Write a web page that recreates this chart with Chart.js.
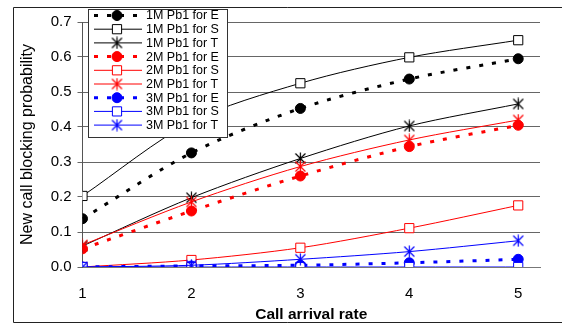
<!DOCTYPE html>
<html>
<head>
    <title>New call blocking probability</title>
    <script src="https://cdn.jsdelivr.net/npm/chart.js"></script>
    <style>
        body {
            margin: 0;
            background: #fff;
        }
    </style>
</head>
<body>
    <canvas id="lineChart" width="562" height="324"></canvas>
    <script>
        // call arrival rates on the x axis
        const arrivalRates = [1, 2, 3, 4, 5];
        const yTicks = [0.0, 0.1, 0.2, 0.3, 0.4, 0.5, 0.6, 0.7];

        const seriesLabels = [
            '1M Pb1 for E', '1M Pb1 for S', '1M Pb1 for T',
            '2M Pb1 for E', '2M Pb1 for S', '2M Pb1 for T',
            '3M Pb1 for E', '3M Pb1 for S', '3M Pb1 for T'
        ];

        const m1E = [0.138, 0.326, 0.453, 0.537, 0.595];
        const m1S = [0.203, 0.415, 0.525, 0.599, 0.648];
        const m1T = [0.060, 0.198, 0.310, 0.403, 0.466];
        const m2E = [0.052, 0.160, 0.260, 0.344, 0.405];
        const m2S = [0.000, 0.020, 0.055, 0.111, 0.176];
        const m2T = [0.063, 0.186, 0.287, 0.363, 0.420];
        const m3E = [0.000, 0.003, 0.005, 0.012, 0.022];
        const m3S = [0.000, 0.000, 0.000, 0.000, 0.000];
        const m3T = [0.000, 0.005, 0.022, 0.044, 0.075];

        const FONT = "'Liberation Sans', Arial, sans-serif";

        // asterisk marker: an X with a vertical stroke
        function starMarker(color) {
            const c = document.createElement('canvas');
            c.width = 13;
            c.height = 13;
            const g = c.getContext('2d');
            g.strokeStyle = color;
            g.lineWidth = 1.2;
            g.beginPath();
            g.moveTo(1.5, 1.5); g.lineTo(11.5, 11.5);
            g.moveTo(11.5, 1.5); g.lineTo(1.5, 11.5);
            g.moveTo(6.5, 0.5); g.lineTo(6.5, 12.5);
            g.stroke();
            return c;
        }

        function pts(values) {
            return values.map((v, i) => ({ x: arrivalRates[i], y: v }));
        }

        function eSeries(label, values, color) {
            return {
                label: label, data: pts(values),
                borderColor: color, borderWidth: 3, borderDash: [4, 9],
                pointStyle: 'circle', pointRadius: 5,
                pointBackgroundColor: color, pointBorderColor: color, pointBorderWidth: 1
            };
        }
        function sSeries(label, values, color) {
            return {
                label: label, data: pts(values),
                borderColor: color, borderWidth: 1,
                pointStyle: 'rect', pointRadius: 6.5,
                pointBackgroundColor: '#fff', pointBorderColor: color, pointBorderWidth: 1
            };
        }
        function tSeries(label, values, color) {
            return {
                label: label, data: pts(values),
                borderColor: color, borderWidth: 1,
                pointStyle: starMarker(color), pointRadius: 6
            };
        }

        const datasets = [
            eSeries(seriesLabels[0], m1E, '#000'),
            sSeries(seriesLabels[1], m1S, '#000'),
            tSeries(seriesLabels[2], m1T, '#000'),
            eSeries(seriesLabels[3], m2E, '#ff0000'),
            sSeries(seriesLabels[4], m2S, '#ff0000'),
            tSeries(seriesLabels[5], m2T, '#ff0000'),
            eSeries(seriesLabels[6], m3E, '#0000ff'),
            sSeries(seriesLabels[7], m3S, '#0000ff'),
            tSeries(seriesLabels[8], m3T, '#0000ff')
        ];
        // later series are painted over earlier ones
        datasets.forEach((d, i) => { d.order = datasets.length - i; d.tension = 0.3; });

        const framePlugin = {
            id: 'frame',
            beforeDraw(chart) {
                const ctx = chart.ctx;
                ctx.save();
                ctx.fillStyle = '#fff';
                ctx.fillRect(0, 0, chart.width, chart.height);
                ctx.strokeStyle = '#222';
                ctx.lineWidth = 1;
                ctx.beginPath();
                ctx.moveTo(562, 7.5);
                ctx.lineTo(13.5, 7.5);
                ctx.lineTo(13.5, 322.5);
                ctx.lineTo(562, 322.5);
                ctx.stroke();
                ctx.restore();
            }
        };

        // boxed legend with a line sample and marker for each series
        const legendPlugin = {
            id: 'boxLegend',
            afterDraw(chart) {
                const ctx = chart.ctx;
                const bx = 88.5, by = 9.5, bw = 139, bh = 128;
                ctx.save();
                ctx.fillStyle = '#fff';
                ctx.fillRect(bx, by, bw, bh);
                ctx.strokeStyle = '#333';
                ctx.lineWidth = 1;
                ctx.strokeRect(bx, by, bw, bh);
                ctx.font = '12.5px ' + FONT;
                ctx.textBaseline = 'middle';
                chart.data.datasets.forEach((d, i) => {
                    const y = 15.5 + i * 13.7;
                    ctx.save();
                    ctx.strokeStyle = d.borderColor;
                    ctx.lineWidth = d.borderWidth;
                    ctx.setLineDash(d.borderDash || []);
                    ctx.beginPath();
                    ctx.moveTo(94, y);
                    ctx.lineTo(142, y);
                    ctx.stroke();
                    ctx.restore();
                    ctx.save();
                    ctx.fillStyle = d.pointBackgroundColor || d.borderColor;
                    ctx.strokeStyle = d.pointBorderColor || d.borderColor;
                    ctx.lineWidth = d.pointBorderWidth || 1;
                    if (Chart.helpers && Chart.helpers.drawPoint) {
                        Chart.helpers.drawPoint(ctx, { pointStyle: d.pointStyle, radius: d.pointRadius, borderWidth: ctx.lineWidth }, 117, y);
                    }
                    ctx.restore();
                    ctx.fillStyle = '#000';
                    ctx.fillText(d.label, 146, y + 0.5);
                });
                ctx.restore();
            }
        };

        const ctx = document.getElementById('lineChart').getContext('2d');
        new Chart(ctx, {
            type: 'line',
            data: { datasets: datasets },
            plugins: [framePlugin, legendPlugin],
            options: {
                responsive: false,
                animation: false,
                layout: { padding: { top: 22, right: 22, left: 0, bottom: 0 } },
                plugins: {
                    legend: { display: false },
                    tooltip: { enabled: false }
                },
                scales: {
                    x: {
                        type: 'linear',
                        min: 1,
                        max: 5.2,
                        afterBuildTicks: (scale) => {
                            scale.ticks = arrivalRates.map(v => ({ value: v }));
                        },
                        afterFit: (scale) => { scale.height = 57; },
                        grid: { display: false },
                        border: { display: true, color: '#777', width: 1 },
                        ticks: {
                            color: '#000',
                            padding: 10,
                            maxRotation: 0,
                            font: { family: FONT, size: 15 }
                        },
                        title: {
                            display: true,
                            text: 'Call arrival rate',
                            color: '#000',
                            padding: { top: 4, bottom: 0 },
                            font: { family: FONT, size: 15.5, weight: 'bold' }
                        }
                    },
                    y: {
                        min: 0,
                        max: 0.7,
                        afterBuildTicks: (scale) => {
                            scale.ticks = yTicks.map(v => ({ value: v }));
                        },
                        afterFit: (scale) => { scale.width = 82.5; },
                        grid: {
                            color: '#666',
                            lineWidth: 1,
                            drawTicks: true,
                            tickLength: 5
                        },
                        border: { display: true, color: '#555', width: 1 },
                        ticks: {
                            color: '#000',
                            padding: 6,
                            callback: (v) => v.toFixed(1),
                            font: { family: FONT, size: 15 }
                        },
                        title: {
                            display: true,
                            text: 'New call blocking probability',
                            color: '#000',
                            padding: { top: 18, bottom: 2 },
                            font: { family: FONT, size: 16 }
                        }
                    }
                }
            }
        });
    </script>
</body>
</html>
